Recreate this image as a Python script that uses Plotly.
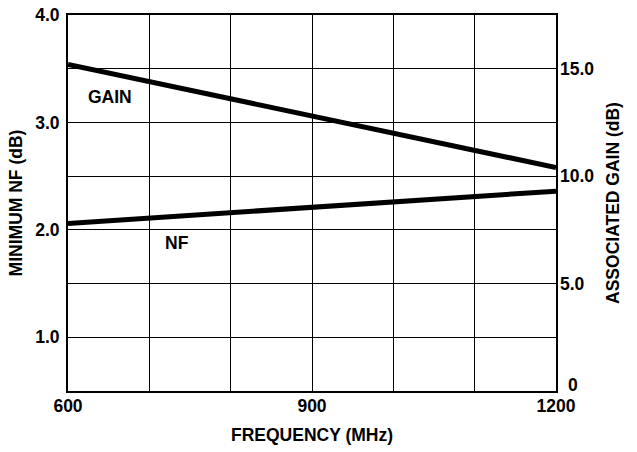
import plotly.graph_objects as go

# valori
freq_mhz = [600, 1200]
gain_db = [15.2, 10.4]
nf_db = [2.06, 2.36]

nf_ticks = [0.5, 1.0, 1.5, 2.0, 2.5, 3.0, 3.5, 4.0]
nf_labels = ["", "1.0", "", "2.0", "", "3.0", "", "4.0"]
gain_ticks = [0, 5, 10, 15]
gain_labels = ["", "5.0", "10.0", "15.0"]
freq_ticks = [600, 700, 800, 900, 1000, 1100, 1200]
freq_labels = ["600", "", "", "900", "", "", "1200"]

FONT = "Liberation Sans, Arial, sans-serif"
SIZE = 17.5
TICKFONT = dict(family=FONT, size=SIZE, color='black')


def bold(labels):
    return [f"<b>{t}</b>" if t else "" for t in labels]


fig = go.Figure()

fig.add_trace(go.Scatter(
    x=freq_mhz, y=nf_db, mode='lines', name='NF',
    line=dict(color='black', width=5), yaxis='y'
))
fig.add_trace(go.Scatter(
    x=freq_mhz, y=gain_db, mode='lines', name='GAIN',
    line=dict(color='black', width=5), yaxis='y2'
))

fig.add_annotation(x=652, y=3.24, xref='x', yref='y', text='<b>GAIN</b>',
                   showarrow=False, font=TICKFONT)
fig.add_annotation(x=734, y=1.88, xref='x', yref='y', text='<b>NF</b>',
                   showarrow=False, font=TICKFONT)
# etichetta "0" dell'asse destro, spostata sopra il "1200"
fig.add_annotation(x=1, y=gain_ticks[0], xref='paper', yref='y2', text='<b>0</b>',
                   showarrow=False, xanchor='left', xshift=10, yshift=6,
                   font=TICKFONT)

fig.update_layout(
    width=637, height=452,
    margin=dict(l=68, r=81, t=15, b=61),
    plot_bgcolor='white', paper_bgcolor='white',
    showlegend=False,
    font=dict(family=FONT, size=SIZE, color='black'),
    xaxis=dict(
        range=[600, 1200], tickvals=freq_ticks, ticktext=bold(freq_labels),
        showgrid=True, gridcolor='black', gridwidth=1.2,
        showline=True, linecolor='black', linewidth=2, mirror=True,
        ticks='', zeroline=False, automargin=False,
        tickfont=TICKFONT, ticklabelstandoff=-2, ticklabeloverflow='allow',
        title=dict(text='<b>FREQUENCY (MHz)</b>', standoff=14, font=TICKFONT)
    ),
    yaxis=dict(
        range=[0.5, 4.0], tickvals=nf_ticks, ticktext=bold(nf_labels),
        showgrid=True, gridcolor='black', gridwidth=1.2,
        showline=True, linecolor='black', linewidth=2, mirror=True,
        ticks='', zeroline=False, automargin=False,
        tickfont=TICKFONT, ticklabelstandoff=3, ticklabeloverflow='allow',
        title=dict(text='<b>MINIMUM NF (dB)</b>', standoff=8, font=TICKFONT)
    ),
    yaxis2=dict(
        range=[0, 17.5], tickvals=gain_ticks, ticktext=bold(gain_labels),
        overlaying='y', side='right', showgrid=False,
        showline=False, ticks='', zeroline=False, automargin=False,
        tickfont=TICKFONT, ticklabelstandoff=3, ticklabeloverflow='allow',
        title=dict(text='<b>ASSOCIATED GAIN (dB)</b>', standoff=13, font=TICKFONT)
    ),
)

# niente margine di default del body, così il grafico parte da (0, 0)
fig.write_html("out.html", config={'displayModeBar': False},
               post_script="document.body.style.margin = '0';")
